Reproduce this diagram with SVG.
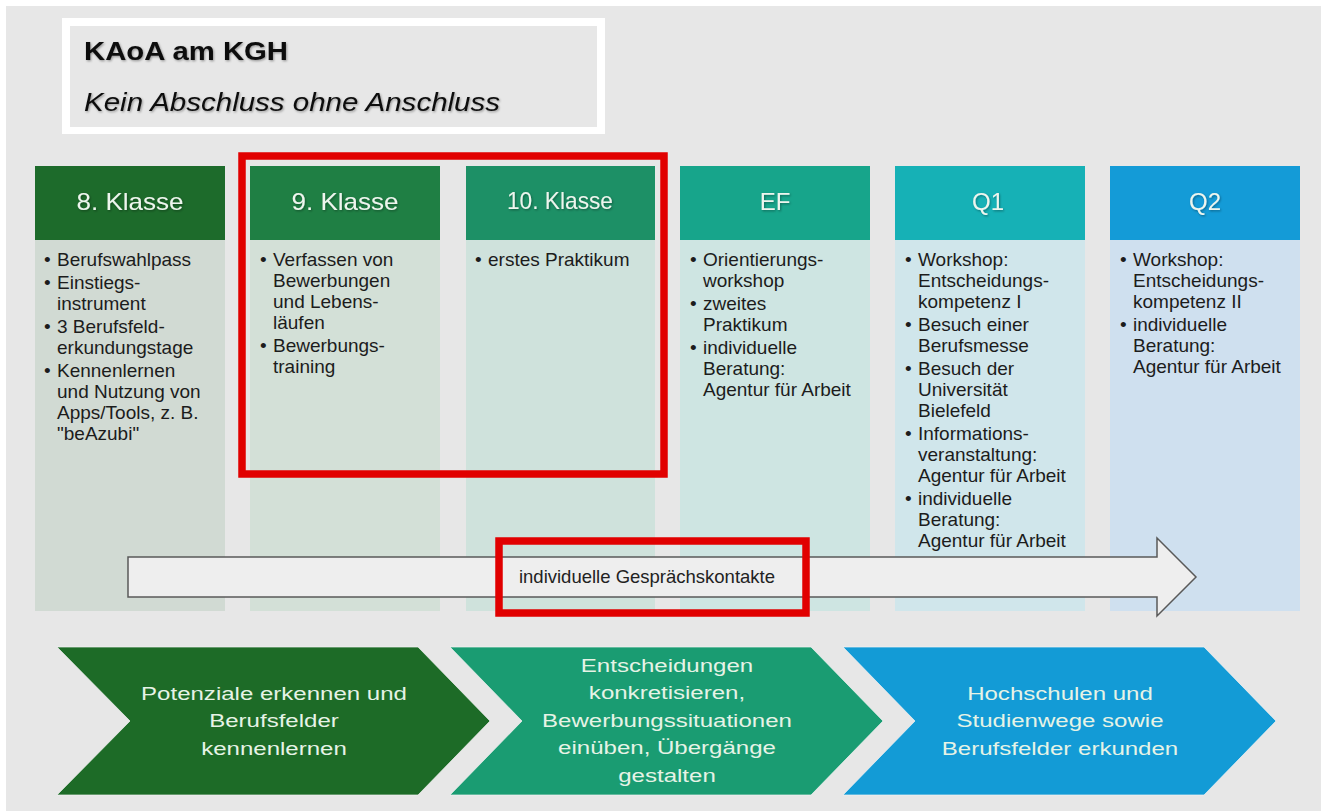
<svg xmlns="http://www.w3.org/2000/svg" width="1321" height="811" viewBox="0 0 1321 811">
  <defs>
    <filter id="shadow" x="-10%" y="-30%" width="120%" height="160%">
      <feDropShadow dx="1" dy="1.2" stdDeviation="0.9" flood-color="#000" flood-opacity="0.35"/>
    </filter>
    <style>
      .hd { font-family: "Liberation Sans", Arial, sans-serif; font-size: 24px; fill: #eef5ee; text-anchor: middle; }
      .bd { font-family: "Liberation Sans", Arial, sans-serif; font-size: 19px; fill: #1c1c1c; }
      .chev { font-family: "Liberation Sans", Arial, sans-serif; font-size: 18.5px; fill: #e6f3e6; text-anchor: middle; }
      .red { fill: none; stroke: #e10000; stroke-width: 7.5; }
      .chevshape { stroke: #f4f4f4; stroke-width: 1; stroke-opacity: 0.7; }
    </style>
  </defs>

  <rect x="0" y="0" width="1321" height="811" fill="#ffffff"/>
  <rect x="6" y="6" width="1315" height="805" fill="#e7e7e7"/>

  <!-- Title -->
  <g id="title">
    <rect x="62" y="18" width="543" height="116" fill="#ffffff"/>
    <rect x="70" y="26" width="527" height="101" fill="#e7e7e7"/>
    <text x="84" y="60" font-family="'Liberation Sans', Arial, sans-serif" font-size="25" font-weight="bold" fill="#111" textLength="204" lengthAdjust="spacingAndGlyphs" filter="url(#shadow)">KAoA am KGH</text>
    <text x="84" y="111" font-family="'Liberation Sans', Arial, sans-serif" font-size="25" font-style="italic" fill="#111" textLength="416" lengthAdjust="spacingAndGlyphs" filter="url(#shadow)">Kein Abschluss ohne Anschluss</text>
  </g>

  <!-- Column 8. Klasse -->
  <g id="col-8">
    <rect x="35" y="166" width="190" height="74" fill="#1d6b2b"/>
    <rect x="35" y="240" width="190" height="371" fill="#d1dad3"/>
    <text class="hd" x="130" y="210" textLength="107" lengthAdjust="spacingAndGlyphs" filter="url(#shadow)">8. Klasse</text>
    <g class="bd">
      <text x="44" y="266">•</text><text x="57" y="266">Berufswahlpass</text>
      <text x="44" y="289">•</text><text x="57" y="289">Einstiegs-</text>
      <text x="57" y="310">instrument</text>
      <text x="44" y="333">•</text><text x="57" y="333">3 Berufsfeld-</text>
      <text x="57" y="354">erkundungstage</text>
      <text x="44" y="377">•</text><text x="57" y="377">Kennenlernen</text>
      <text x="57" y="398">und Nutzung von</text>
      <text x="57" y="419">Apps/Tools, z. B.</text>
      <text x="57" y="440">"beAzubi"</text>
    </g>
  </g>

  <!-- Column 9. Klasse -->
  <g id="col-9">
    <rect x="250" y="166" width="190" height="74" fill="#1f7f44"/>
    <rect x="250" y="240" width="190" height="371" fill="#d3e0d7"/>
    <text class="hd" x="345" y="210" textLength="107" lengthAdjust="spacingAndGlyphs" filter="url(#shadow)">9. Klasse</text>
    <g class="bd">
      <text x="260" y="266">•</text><text x="273" y="266">Verfassen von</text>
      <text x="273" y="287">Bewerbungen</text>
      <text x="273" y="308">und Lebens-</text>
      <text x="273" y="329">läufen</text>
      <text x="260" y="352">•</text><text x="273" y="352">Bewerbungs-</text>
      <text x="273" y="373">training</text>
    </g>
  </g>

  <!-- Column 10. Klasse -->
  <g id="col-10">
    <rect x="466" y="166" width="189" height="74" fill="#1d9066"/>
    <rect x="466" y="240" width="189" height="371" fill="#cfe2dc"/>
    <text class="hd" x="560" y="209" font-size="21" textLength="106" lengthAdjust="spacingAndGlyphs" filter="url(#shadow)">10. Klasse</text>
    <g class="bd">
      <text x="475" y="266">•</text><text x="488" y="266">erstes Praktikum</text>
    </g>
  </g>

  <!-- Column EF -->
  <g id="col-ef">
    <rect x="680" y="166" width="190" height="74" fill="#17a58b"/>
    <rect x="680" y="240" width="190" height="371" fill="#cee5e2"/>
    <text class="hd" x="775" y="210" filter="url(#shadow)">EF</text>
    <g class="bd">
      <text x="690" y="266">•</text><text x="703" y="266">Orientierungs-</text>
      <text x="703" y="287">workshop</text>
      <text x="690" y="310">•</text><text x="703" y="310">zweites</text>
      <text x="703" y="331">Praktikum</text>
      <text x="690" y="354">•</text><text x="703" y="354">individuelle</text>
      <text x="703" y="375">Beratung:</text>
      <text x="703" y="396">Agentur für Arbeit</text>
    </g>
  </g>

  <!-- Column Q1 -->
  <g id="col-q1">
    <rect x="895" y="166" width="190" height="74" fill="#16b1b6"/>
    <rect x="895" y="240" width="190" height="371" fill="#d0e6eb"/>
    <text class="hd" x="988" y="210" filter="url(#shadow)">Q1</text>
    <g class="bd">
      <text x="905" y="266">•</text><text x="918" y="266">Workshop:</text>
      <text x="918" y="287">Entscheidungs-</text>
      <text x="918" y="308">kompetenz I</text>
      <text x="905" y="331">•</text><text x="918" y="331">Besuch einer</text>
      <text x="918" y="352">Berufsmesse</text>
      <text x="905" y="375">•</text><text x="918" y="375">Besuch der</text>
      <text x="918" y="396">Universität</text>
      <text x="918" y="417">Bielefeld</text>
      <text x="905" y="440">•</text><text x="918" y="440">Informations-</text>
      <text x="918" y="461">veranstaltung:</text>
      <text x="918" y="482">Agentur für Arbeit</text>
      <text x="905" y="505">•</text><text x="918" y="505">individuelle</text>
      <text x="918" y="526">Beratung:</text>
      <text x="918" y="547">Agentur für Arbeit</text>
    </g>
  </g>

  <!-- Column Q2 -->
  <g id="col-q2">
    <rect x="1110" y="166" width="190" height="74" fill="#149bd7"/>
    <rect x="1110" y="240" width="190" height="371" fill="#cfe0ef"/>
    <text class="hd" x="1205" y="210" filter="url(#shadow)">Q2</text>
    <g class="bd">
      <text x="1120" y="266">•</text><text x="1133" y="266">Workshop:</text>
      <text x="1133" y="287">Entscheidungs-</text>
      <text x="1133" y="308">kompetenz II</text>
      <text x="1120" y="331">•</text><text x="1133" y="331">individuelle</text>
      <text x="1133" y="352">Beratung:</text>
      <text x="1133" y="373">Agentur für Arbeit</text>
    </g>
  </g>

  <!-- Highlight 9./10. Klasse -->
  <g id="highlight-9-10">
    <rect class="red" x="242" y="156" width="422" height="318"/>
  </g>

  <!-- Timeline arrow -->
  <g id="connectors">
    <polygon points="128,557 1157,557 1157,538 1196,577 1157,616 1157,597 128,597" fill="#eeeeee" stroke="#595959" stroke-width="1.5" stroke-linejoin="miter"/>
    <text x="647" y="583" font-family="'Liberation Sans', Arial, sans-serif" font-size="18.5" fill="#222" text-anchor="middle">individuelle Gesprächskontakte</text>
  </g>

  <g id="highlight-gespraech">
    <rect class="red" x="499" y="541" width="307" height="72"/>
  </g>

  <!-- Bottom chevrons -->
  <g id="phase-1">
    <polygon class="chevshape" points="57,647 418,647 490,721 418,795 57,795 130,721" fill="#1d6b27"/>
    <g transform="translate(274,0) scale(1.3,1)">
      <text class="chev" x="0" y="700">Potenziale erkennen und</text>
      <text class="chev" x="0" y="727.5">Berufsfelder</text>
      <text class="chev" x="0" y="755">kennenlernen</text>
    </g>
  </g>
  <g id="phase-2">
    <polygon class="chevshape" points="450,647 811,647 883,721 811,795 450,795 522,721" fill="#1a9c72"/>
    <g transform="translate(667,0) scale(1.3,1)">
      <text class="chev" x="0" y="672">Entscheidungen</text>
      <text class="chev" x="0" y="699.5">konkretisieren,</text>
      <text class="chev" x="0" y="727">Bewerbungssituationen</text>
      <text class="chev" x="0" y="754.5">einüben, Übergänge</text>
      <text class="chev" x="0" y="782">gestalten</text>
    </g>
  </g>
  <g id="phase-3">
    <polygon class="chevshape" points="843,647 1204,647 1276,721 1204,795 843,795 915,721" fill="#139bd6"/>
    <g transform="translate(1060,0) scale(1.3,1)">
      <text class="chev" x="0" y="700">Hochschulen und</text>
      <text class="chev" x="0" y="727.5">Studienwege sowie</text>
      <text class="chev" x="0" y="755">Berufsfelder erkunden</text>
    </g>
  </g>
</svg>
